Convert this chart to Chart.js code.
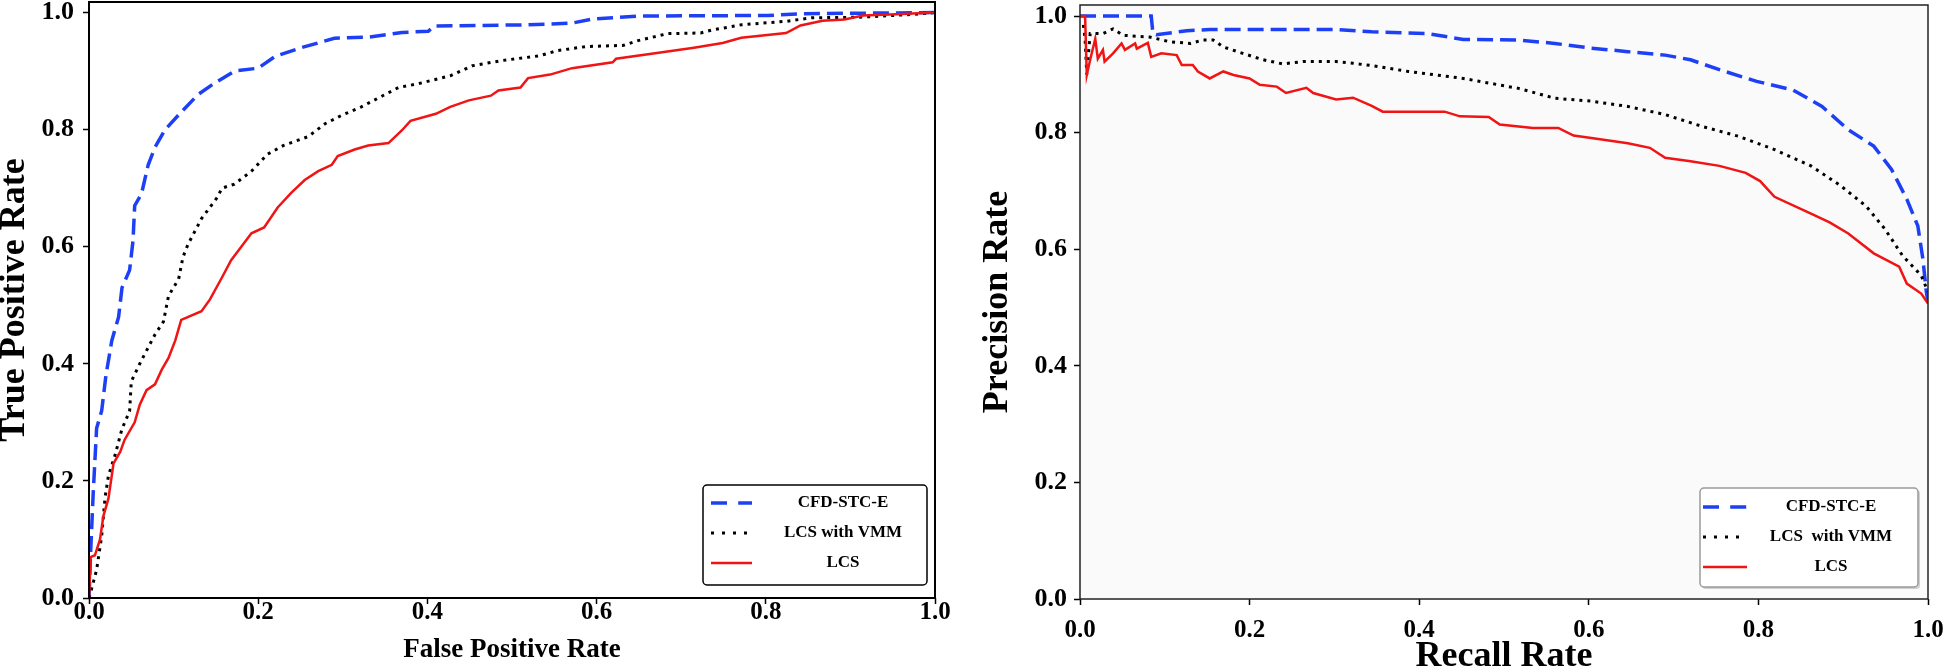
<!DOCTYPE html>
<html>
<head>
<meta charset="utf-8">
<script src="https://cdn.jsdelivr.net/npm/chart.js@4.4.1/dist/chart.umd.min.js"></script>
<style>
  html, body { margin: 0; padding: 0; background: #fff; }
  #wrap { position: relative; width: 1945px; height: 668px; }
  canvas { position: absolute; top: 0; }
  #roc { left: 0; }
  #pr { left: 975px; }
</style>
</head>
<body>
<div id="wrap">
  <canvas id="roc" width="975" height="668"></canvas>
  <canvas id="pr" width="970" height="668"></canvas>
</div>
<script>
// legend labels (the right panel uses a double space in the middle entry)
const rocLabels = ['CFD-STC-E', 'LCS with VMM', 'LCS'];
const prLabels = ['CFD-STC-E', 'LCS  with VMM', 'LCS'];
const tickValues = [0, 0.2, 0.4, 0.6, 0.8, 1.0];

// ROC curves: false positive rate -> true positive rate
const rocCfdFpr = [0, 0.001, 0.002, 0.005, 0.009, 0.015, 0.02, 0.027, 0.035, 0.039, 0.048, 0.052, 0.054, 0.062, 0.07, 0.078, 0.09, 0.109, 0.129, 0.149, 0.172, 0.2, 0.22, 0.251, 0.29, 0.33, 0.37, 0.401, 0.408, 0.519, 0.571, 0.595, 0.649, 0.802, 0.845, 1.0];
const rocCfdTpr = [0, 0.04, 0.08, 0.18, 0.29, 0.32, 0.38, 0.44, 0.48, 0.53, 0.56, 0.61, 0.67, 0.69, 0.74, 0.77, 0.80, 0.83, 0.86, 0.88, 0.90, 0.905, 0.925, 0.94, 0.956, 0.958, 0.966, 0.968, 0.977, 0.979, 0.982, 0.989, 0.994, 0.995, 0.998, 1.0];

const rocVmmFpr = [0, 0.002, 0.009, 0.015, 0.019, 0.023, 0.031, 0.039, 0.048, 0.05, 0.062, 0.078, 0.088, 0.094, 0.106, 0.111, 0.117, 0.133, 0.152, 0.157, 0.172, 0.192, 0.211, 0.23, 0.259, 0.279, 0.298, 0.322, 0.346, 0.366, 0.388, 0.427, 0.453, 0.488, 0.532, 0.554, 0.588, 0.632, 0.649, 0.684, 0.723, 0.736, 0.771, 0.824, 0.854, 0.911, 0.976, 1.0];
const rocVmmTpr = [0, 0.01, 0.048, 0.106, 0.172, 0.209, 0.245, 0.289, 0.319, 0.37, 0.406, 0.45, 0.472, 0.516, 0.545, 0.582, 0.604, 0.648, 0.685, 0.7, 0.707, 0.729, 0.758, 0.773, 0.788, 0.81, 0.824, 0.839, 0.857, 0.872, 0.878, 0.892, 0.909, 0.918, 0.926, 0.935, 0.942, 0.944, 0.952, 0.964, 0.965, 0.97, 0.979, 0.985, 0.991, 0.992, 0.997, 1.0];

const rocLcsFpr = [0, 0.002, 0.007, 0.013, 0.017, 0.023, 0.029, 0.037, 0.042, 0.054, 0.06, 0.068, 0.078, 0.086, 0.094, 0.102, 0.109, 0.133, 0.143, 0.157, 0.168, 0.18, 0.192, 0.207, 0.223, 0.239, 0.255, 0.271, 0.287, 0.294, 0.314, 0.33, 0.354, 0.37, 0.38, 0.41, 0.427, 0.449, 0.475, 0.484, 0.51, 0.519, 0.545, 0.571, 0.619, 0.623, 0.667, 0.715, 0.749, 0.771, 0.824, 0.841, 0.867, 0.893, 0.915, 0.954, 1.0];
const rocLcsTpr = [0, 0.07, 0.073, 0.1, 0.14, 0.17, 0.23, 0.25, 0.27, 0.3, 0.33, 0.355, 0.365, 0.39, 0.41, 0.44, 0.475, 0.49, 0.51, 0.547, 0.577, 0.6, 0.623, 0.633, 0.667, 0.692, 0.714, 0.729, 0.74, 0.755, 0.766, 0.773, 0.777, 0.799, 0.815, 0.827, 0.839, 0.85, 0.858, 0.867, 0.872, 0.888, 0.894, 0.905, 0.915, 0.921, 0.93, 0.94, 0.948, 0.957, 0.965, 0.978, 0.986, 0.988, 0.995, 0.997, 1.0];

// precision / recall curves
const prCfdRecall = [0, 0.084, 0.086, 0.09, 0.126, 0.153, 0.224, 0.302, 0.344, 0.409, 0.452, 0.517, 0.56, 0.603, 0.646, 0.69, 0.72, 0.754, 0.798, 0.841, 0.875, 0.906, 0.936, 0.957, 0.975, 0.988, 0.994, 0.998, 1.0];
const prCfdPrecision = [1.0, 1.0, 0.97, 0.968, 0.975, 0.977, 0.977, 0.977, 0.973, 0.97, 0.96, 0.959, 0.953, 0.945, 0.939, 0.933, 0.925, 0.908, 0.888, 0.873, 0.845, 0.805, 0.777, 0.737, 0.686, 0.64, 0.583, 0.527, 0.51];

const prVmmRecall = [0.004, 0.006, 0.008, 0.012, 0.027, 0.039, 0.051, 0.082, 0.106, 0.13, 0.145, 0.157, 0.169, 0.192, 0.216, 0.239, 0.263, 0.302, 0.322, 0.344, 0.387, 0.452, 0.517, 0.56, 0.603, 0.646, 0.69, 0.733, 0.776, 0.819, 0.862, 0.897, 0.927, 0.949, 0.97, 0.992, 1.0];
const prVmmPrecision = [0.985, 0.96, 0.90, 0.97, 0.97, 0.978, 0.967, 0.964, 0.956, 0.953, 0.959, 0.959, 0.947, 0.936, 0.925, 0.918, 0.922, 0.922, 0.919, 0.915, 0.905, 0.893, 0.876, 0.859, 0.854, 0.845, 0.831, 0.811, 0.794, 0.771, 0.743, 0.709, 0.674, 0.635, 0.589, 0.555, 0.527];

const prLcsRecall = [0, 0.006, 0.008, 0.012, 0.018, 0.021, 0.027, 0.029, 0.039, 0.049, 0.053, 0.065, 0.067, 0.08, 0.084, 0.096, 0.114, 0.12, 0.133, 0.139, 0.153, 0.169, 0.181, 0.2, 0.212, 0.232, 0.243, 0.267, 0.275, 0.302, 0.322, 0.344, 0.357, 0.43, 0.448, 0.482, 0.495, 0.534, 0.564, 0.582, 0.603, 0.646, 0.672, 0.69, 0.72, 0.754, 0.785, 0.802, 0.819, 0.862, 0.884, 0.906, 0.936, 0.966, 0.975, 0.992, 1.0];
const prLcsPrecision = [1.0, 1.0, 0.899, 0.925, 0.961, 0.927, 0.942, 0.922, 0.936, 0.953, 0.942, 0.953, 0.944, 0.954, 0.93, 0.936, 0.933, 0.916, 0.916, 0.905, 0.893, 0.905, 0.899, 0.893, 0.882, 0.879, 0.868, 0.877, 0.868, 0.857, 0.86, 0.846, 0.836, 0.836, 0.828, 0.827, 0.814, 0.808, 0.808, 0.795, 0.791, 0.782, 0.774, 0.757, 0.751, 0.743, 0.731, 0.717, 0.69, 0.661, 0.646, 0.627, 0.593, 0.57, 0.541, 0.524, 0.507];

const SERIF = "'Liberation Serif', 'Times New Roman', serif";
Chart.defaults.font.family = SERIF;
Chart.defaults.font.weight = 'bold';
Chart.defaults.color = '#000';

function points(xs, ys) {
    return xs.map((x, i) => ({x: x, y: ys[i]}));
}

// blue dashed, black dotted, red solid; red is drawn on top
const lineStyles = [
    {borderColor: '#1e40f5', borderWidth: 3.5, borderDash: [16, 7], order: 2},
    {borderColor: '#000000', borderWidth: 3, borderDash: [3, 5], order: 1},
    {borderColor: '#f01414', borderWidth: 2.5, borderDash: [], order: 0}
];

function makeDatasets(labels, xsList, ysList) {
    return labels.map((label, i) => Object.assign({
        label: label,
        data: points(xsList[i], ysList[i]),
        pointRadius: 0,
        fill: false,
        tension: 0,
        borderCapStyle: 'butt',
        borderJoinStyle: 'miter'
    }, lineStyles[i]));
}

// plot frame and optional background
const framePlugin = {
    id: 'frame',
    beforeDraw(chart, args, opts) {
        if (!opts.fill) return;
        const a = chart.chartArea;
        chart.ctx.save();
        chart.ctx.fillStyle = opts.fill;
        chart.ctx.fillRect(a.left, a.top, a.right - a.left, a.bottom - a.top);
        chart.ctx.restore();
    },
    afterDatasetsDraw(chart, args, opts) {
        const a = chart.chartArea;
        const ctx = chart.ctx;
        ctx.save();
        ctx.strokeStyle = opts.color;
        ctx.lineWidth = opts.width;
        ctx.strokeRect(a.left, a.top, a.right - a.left, a.bottom - a.top);
        ctx.restore();
    }
};

// boxed legend with centred labels, drawn from the datasets
const boxLegendPlugin = {
    id: 'boxLegend',
    afterDraw(chart, args, o) {
        const ctx = chart.ctx;
        ctx.save();
        if (o.shadow) {
            ctx.fillStyle = o.shadow;
            ctx.beginPath();
            ctx.roundRect(o.x + 2, o.y + 2, o.w, o.h, 4);
            ctx.fill();
        }
        ctx.beginPath();
        ctx.roundRect(o.x, o.y, o.w, o.h, 4);
        ctx.fillStyle = '#fff';
        ctx.fill();
        ctx.lineWidth = 1.5;
        ctx.strokeStyle = o.border;
        ctx.stroke();
        ctx.font = 'bold ' + o.fontSize + 'px ' + SERIF;
        ctx.textAlign = 'center';
        ctx.textBaseline = 'middle';
        chart.data.datasets.forEach((ds, i) => {
            const y = o.y + o.firstRow + i * o.rowGap;
            ctx.beginPath();
            ctx.setLineDash(ds.borderDash.length ? [ds.borderDash[0], ds.borderDash[1] * 1.6] : []);
            ctx.lineWidth = ds.borderWidth;
            ctx.strokeStyle = ds.borderColor;
            ctx.lineCap = 'butt';
            ctx.moveTo(o.lineX0, y);
            ctx.lineTo(o.lineX1, y);
            ctx.stroke();
            ctx.setLineDash([]);
            ctx.fillStyle = '#000';
            ctx.fillText(ds.label, o.textX, y);
        });
        ctx.restore();
    }
};

function axis(o) {
    return {
        type: 'linear',
        min: 0,
        max: o.max,
        afterBuildTicks: s => { s.ticks = tickValues.map(v => ({value: v})); },
        afterFit: s => {
            if (o.width) s.width = o.width;
            if (o.height) s.height = o.height;
            s.paddingLeft = s.paddingRight = s.paddingTop = s.paddingBottom = 0;
        },
        border: {display: false},
        grid: {drawOnChartArea: false, drawTicks: true, tickLength: 6, tickWidth: 1.5, tickColor: '#000'},
        ticks: {
            autoSkip: false, maxRotation: 0, color: '#000', padding: o.tickPad,
            font: {size: o.tickSize, weight: 'bold', lineHeight: 1},
            callback: v => v.toFixed(1)
        },
        title: {
            display: true, text: o.title, color: '#000',
            font: {size: o.titleSize, weight: 'bold', lineHeight: 1},
            padding: {top: o.titlePad, bottom: o.titlePad}
        }
    };
}

new Chart(document.getElementById('roc'), {
    type: 'line',
    data: {
        datasets: makeDatasets(rocLabels,
            [rocCfdFpr, rocVmmFpr, rocLcsFpr],
            [rocCfdTpr, rocVmmTpr, rocLcsTpr])
    },
    options: {
        responsive: false,
        animation: false,
        layout: {padding: {left: 0, right: 40, top: 2, bottom: 0}},
        scales: {
            x: axis({max: 1, height: 70, tickSize: 25, tickPad: -4, title: 'False Positive Rate', titleSize: 27, titlePad: 4.5}),
            y: axis({max: 1.018, width: 89, tickSize: 26, tickPad: 9, title: 'True Positive Rate', titleSize: 36, titlePad: -3})
        },
        plugins: {
            legend: {display: false},
            tooltip: {enabled: false},
            frame: {color: '#000', width: 2},
            boxLegend: {x: 703, y: 485, w: 224, h: 100, firstRow: 18, rowGap: 30,
                        lineX0: 711, lineX1: 752, textX: 843, fontSize: 17, border: '#000'}
        }
    },
    plugins: [framePlugin, boxLegendPlugin]
});

new Chart(document.getElementById('pr'), {
    type: 'line',
    data: {
        datasets: makeDatasets(prLabels,
            [prCfdRecall, prVmmRecall, prLcsRecall],
            [prCfdPrecision, prVmmPrecision, prLcsPrecision])
    },
    options: {
        responsive: false,
        animation: false,
        layout: {padding: {left: 0, right: 17, top: 5, bottom: 0}},
        scales: {
            x: axis({max: 1, height: 69, tickSize: 25, tickPad: 13, title: 'Recall Rate', titleSize: 36, titlePad: -7}),
            y: axis({max: 1.019, width: 105, tickSize: 26, tickPad: 7, title: 'Precision Rate', titleSize: 36, titlePad: 5})
        },
        plugins: {
            legend: {display: false},
            tooltip: {enabled: false},
            frame: {color: '#222', width: 1.5, fill: '#fafafa'},
            boxLegend: {x: 725, y: 488, w: 218, h: 99, firstRow: 19, rowGap: 30,
                        lineX0: 728, lineX1: 772, textX: 856, fontSize: 17, border: '#9a9a9a', shadow: '#d0d0d0'}
        }
    },
    plugins: [framePlugin, boxLegendPlugin]
});
</script>
</body>
</html>
